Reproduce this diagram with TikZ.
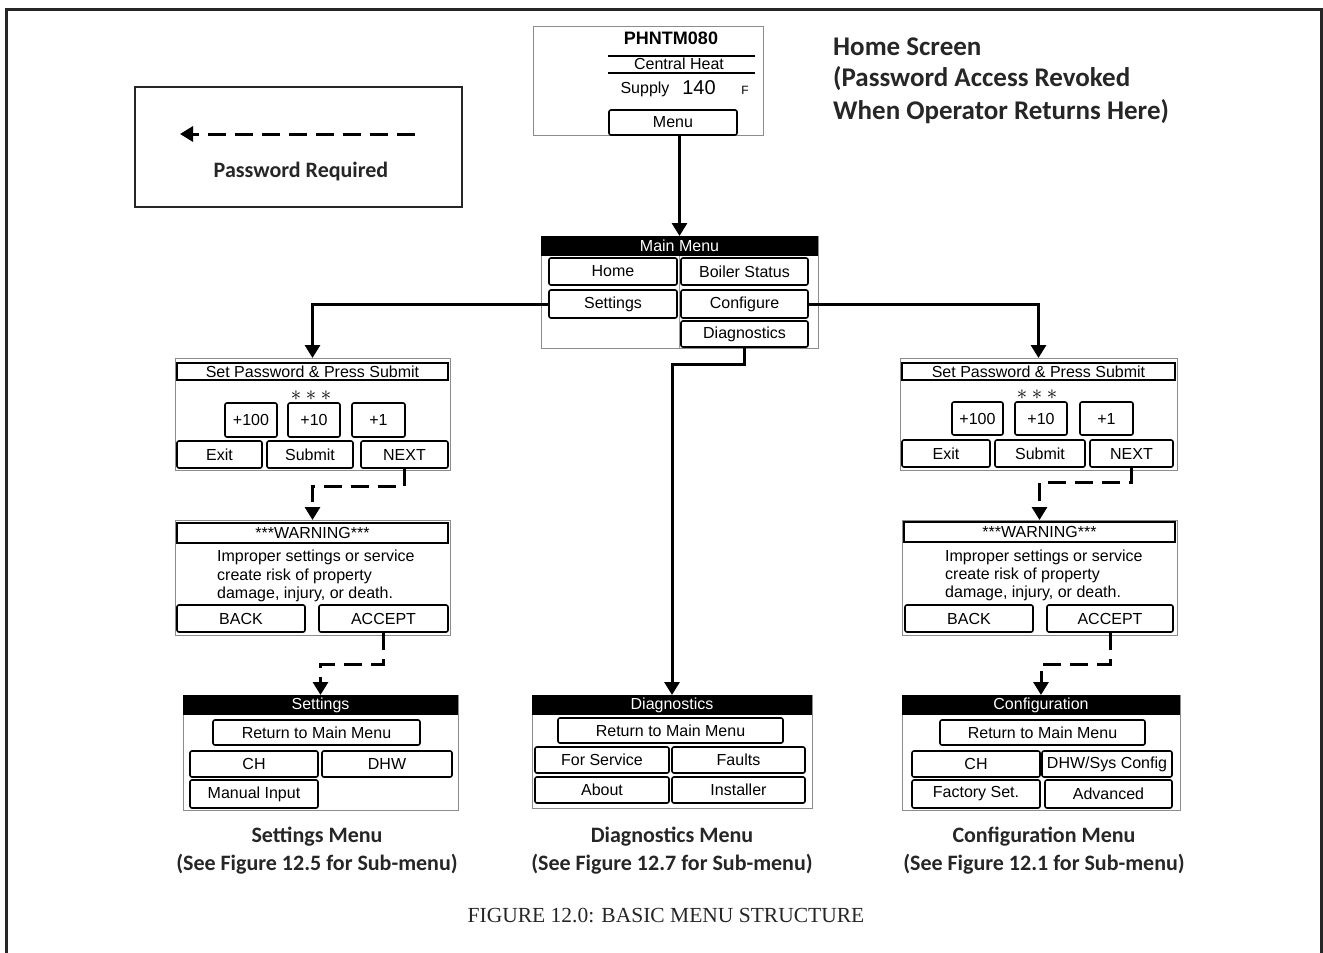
\documentclass[tikz,border=0pt]{standalone}
\usepackage{fontspec}
\setmainfont{Carlito}
\newfontfamily\scrfont{Liberation Sans}
\newfontfamily\serfont{Liberation Serif}
\usetikzlibrary{arrows.meta}
\newcommand\mkbox[7]{\node[#1, minimum width=#4pt-#2pt, minimum height=#5pt-#3pt] (#6) at ({(#2+#4)/2},{(#3+#5)/2}) {#7};}
\begin{document}
\begin{tikzpicture}[x=1pt,y=-1pt,
  scrframe/.style={draw=black!45, line width=1pt, inner sep=0pt, outer sep=0pt},
  btn/.style={draw=black, line width=1.6pt, rounded corners=2pt, fill=white, inner sep=0pt, outer sep=0pt, font=\scrfont\fontsize{16}{18}\selectfont},
  hdrbox/.style={draw=black, line width=1.6pt, fill=white, inner sep=0pt, outer sep=0pt, font=\scrfont\fontsize{16}{18}\selectfont},
  blackhdr/.style={fill=black, text=white, inner sep=0pt, outer sep=0pt, font=\scrfont\fontsize{16}{18}\selectfont},
  scrtxt/.style={inner sep=0pt, font=\scrfont\fontsize{16}{18}\selectfont},
  stars/.style={inner sep=0pt, font=\fontsize{20}{20}\selectfont},
  conn/.style={line width=3pt, -{Triangle[width=15pt,length=13pt]}},
  dconn/.style={conn, dash pattern=on 18pt off 9pt},
  captxt/.style={font=\bfseries\fontsize{22}{24}\selectfont, text=black!85, inner sep=0pt},
  homelbl/.style={font=\bfseries\fontsize{27}{29}\selectfont, text=black!85, inner sep=0pt, anchor=west},
]
\useasboundingbox (0,0) rectangle (1323,953);
% outer frame
\draw[line width=3pt, black!85] (6,953) -- (6,9) -- (1321,9) -- (1321,953);

% ---------- Home screen ----------
\mkbox{scrframe}{533}{26}{763}{135}{home}{}
\node[scrtxt, font=\scrfont\bfseries\fontsize{18}{20}\selectfont] (hm1) at (671,38) {PHNTM080};
\draw[line width=1.2pt] (608,56) -- (755,56);
\node[scrtxt] (hm2) at (679,64) {Central Heat};
\draw[line width=1.2pt] (608,73) -- (755,73);
\node[scrtxt] (hm3) at (645,89) {Supply};
\node[scrtxt, font=\scrfont\fontsize{20}{22}\selectfont] (hm4) at (699,88) {140};
\node[scrtxt, font=\scrfont\fontsize{12}{14}\selectfont] (hm5) at (745,90) {F};
\mkbox{btn}{609}{110}{737}{135}{menu}{Menu}

\node[homelbl] (hl1) at (833,47) {Home Screen};
\node[homelbl] (hl2) at (833,79) {(Password Access Revoked};
\node[homelbl] (hl3) at (833,112) {When Operator Returns Here)};

% ---------- Legend ----------
\mkbox{draw=black!85, line width=1.5pt, inner sep=0pt}{135}{87}{462}{207}{legend}{}
\coordinate (lgA) at (415,134);
\coordinate (lgB) at (180,134);
\draw[dconn] (lgA) -- (lgB);
\node[font=\bfseries\fontsize{22}{24}\selectfont, text=black!85] (lgt) at (301,172) {Password Required};

% ---------- Main menu ----------
\mkbox{scrframe}{541}{236}{818}{348}{mm}{}
\mkbox{blackhdr}{541}{236}{818}{256}{mmh}{Main Menu}
\draw[black!40, line width=1pt] (679,256) -- (679,348);
\mkbox{btn}{549}{258}{677}{285}{homeb}{Home}
\mkbox{btn}{681}{258}{808}{285}{boilb}{Boiler Status}
\mkbox{btn}{549}{290}{677}{318}{setb}{Settings}
\mkbox{btn}{681}{290}{808}{318}{confb}{Configure}
\mkbox{btn}{681}{321}{808}{347}{diagb}{Diagnostics}

% ---------- Left password ----------
\mkbox{scrframe}{175}{358}{450}{470}{pwL}{}
\mkbox{hdrbox}{177}{363}{448}{380}{pwLh}{Set Password \& Press Submit}
\node[stars] (pwLs) at (311,396) {$\ast\ast\ast$};
\mkbox{btn}{225}{403}{277}{437}{pL100}{+100}
\mkbox{btn}{288}{403}{340}{437}{pL10}{+10}
\mkbox{btn}{352}{403}{405}{437}{pL1}{+1}
\mkbox{btn}{177}{441}{262}{468}{pLexit}{Exit}
\mkbox{btn}{267}{441}{353}{468}{pLsub}{Submit}
\mkbox{btn}{361}{441}{448}{468}{pLnext}{NEXT}

% ---------- Left warning ----------
\mkbox{scrframe}{175}{520}{450}{635}{wL}{}
\mkbox{hdrbox}{177}{523}{448}{543}{wLh}{***WARNING***}
\node[scrtxt, anchor=west] (wL1) at (217,557) {Improper settings or service};
\node[scrtxt, anchor=west] (wL2) at (217,576) {create risk of property};
\node[scrtxt, anchor=west] (wL3) at (217,594) {damage, injury, or death.};
\mkbox{btn}{177}{605}{305}{632}{wLback}{BACK}
\mkbox{btn}{319}{605}{448}{632}{wLacc}{ACCEPT}

% ---------- Settings menu ----------
\mkbox{scrframe}{183}{695}{458}{810}{sm}{}
\mkbox{blackhdr}{183}{695}{458}{715}{smh}{Settings}
\mkbox{btn}{213}{720}{420}{745}{smret}{Return to Main Menu}
\mkbox{btn}{190}{751}{318}{777}{smch}{CH}
\mkbox{btn}{322}{751}{452}{777}{smdhw}{DHW}
\mkbox{btn}{190}{780}{318}{808}{smman}{Manual Input}

% ---------- Diagnostics menu ----------
\mkbox{scrframe}{532}{695}{812}{808}{dm}{}
\mkbox{blackhdr}{532}{695}{812}{715}{dmh}{Diagnostics}
\mkbox{btn}{558}{718}{783}{743}{dmret}{Return to Main Menu}
\mkbox{btn}{535}{747}{669}{773}{dmfs}{For Service}
\mkbox{btn}{672}{747}{805}{773}{dmfa}{Faults}
\mkbox{btn}{535}{777}{669}{803}{dmab}{About}
\mkbox{btn}{672}{777}{805}{803}{dmin}{Installer}

% ---------- Right password ----------
\mkbox{scrframe}{900}{358}{1177}{470}{pwR}{}
\mkbox{hdrbox}{902}{363}{1175}{380}{pwRh}{Set Password \& Press Submit}
\node[stars] (pwRs) at (1037,395) {$\ast\ast\ast$};
\mkbox{btn}{952}{402}{1003}{435}{pR100}{+100}
\mkbox{btn}{1015}{402}{1067}{435}{pR10}{+10}
\mkbox{btn}{1080}{402}{1133}{435}{pR1}{+1}
\mkbox{btn}{902}{440}{990}{467}{pRexit}{Exit}
\mkbox{btn}{995}{440}{1085}{467}{pRsub}{Submit}
\mkbox{btn}{1090}{440}{1173}{467}{pRnext}{NEXT}

% ---------- Right warning ----------
\mkbox{scrframe}{902}{520}{1177}{635}{wR}{}
\mkbox{hdrbox}{904}{522}{1175}{542}{wRh}{***WARNING***}
\node[scrtxt, anchor=west] (wR1) at (945,557) {Improper settings or service};
\node[scrtxt, anchor=west] (wR2) at (945,575) {create risk of property};
\node[scrtxt, anchor=west] (wR3) at (945,593) {damage, injury, or death.};
\mkbox{btn}{905}{605}{1033}{632}{wRback}{BACK}
\mkbox{btn}{1047}{605}{1173}{632}{wRacc}{ACCEPT}

% ---------- Configuration menu ----------
\mkbox{scrframe}{902}{695}{1180}{810}{cm}{}
\mkbox{blackhdr}{902}{695}{1180}{715}{cmh}{Configuration}
\mkbox{btn}{940}{720}{1145}{745}{cmret}{Return to Main Menu}
\mkbox{btn}{912}{751}{1040}{777}{cmch}{CH}
\mkbox{btn}{1042}{751}{1172}{777}{cmdhw}{DHW/Sys Config}
\mkbox{btn}{912}{780}{1040}{808}{cmfac}{Factory Set.}
\mkbox{btn}{1045}{780}{1172}{808}{cmadv}{Advanced}

% ---------- Connectors ----------
\draw[conn] (menu.south -| mmh.north) -- (mmh.north);
\draw[conn] (setb.west) -| (pwL.north);
\draw[conn] (confb.east) -| (pwR.north);
\draw[conn] (diagb.south) -- ++(0,17) -| (dmh.north);
\draw[dconn] (pLnext.south) -- ++(0,18) -| (wL.north);
\draw[dconn] (wLacc.south) -- ++(0,32) -| (smh.north);
\draw[dconn] (pRnext.south) -- ++(0,15) -| (wR.north);
\draw[dconn] (wRacc.south) -- ++(0,32) -| (cmh.north);

% ---------- Captions ----------
\node[captxt] (c1a) at (317,837) {Settings Menu};
\node[captxt] (c1b) at (317,864) {(See Figure 12.5 for Sub-menu)};
\node[captxt] (c2a) at (672,837) {Diagnostics Menu};
\node[captxt] (c2b) at (672,864) {(See Figure 12.7 for Sub-menu)};
\node[captxt] (c3a) at (1044,837) {Configuration Menu};
\node[captxt] (c3b) at (1044,864) {(See Figure 12.1 for Sub-menu)};

\node[font=\serfont\fontsize{21.5}{24}\selectfont, text=black!85] (title) at (666,915) {FIGURE 12.0: BASIC MENU STRUCTURE};
\end{tikzpicture}
\end{document}
